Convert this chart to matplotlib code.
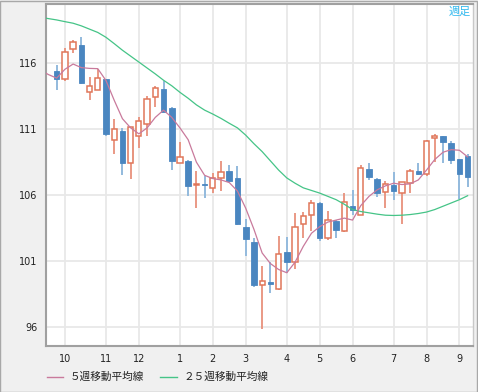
import numpy as np
import matplotlib
matplotlib.use("Agg")
import matplotlib.pyplot as plt
from matplotlib.lines import Line2D
from matplotlib.patches import Rectangle

# weekly candles (oldest first)
opens = [115.4, 114.8, 117.1, 117.4, 113.85, 114.0, 114.8, 110.2, 110.85, 108.4,
         110.5, 111.4, 113.45, 114.05, 112.6, 108.45, 108.6, 106.75, 106.8, 106.55,
         107.3, 107.85, 107.3, 103.6, 102.45, 99.15, 99.35, 98.9, 101.7, 100.95,
         103.8, 104.45, 105.4, 102.75, 104.0, 103.3, 105.2, 104.5, 108.0, 107.2,
         106.2, 106.8, 106.15, 106.9, 107.85, 107.6, 110.35, 110.5, 109.95, 108.75,
         108.95]
highs = [115.9, 117.2, 117.8, 118.0, 115.0, 115.6, 114.85, 111.75, 111.1, 111.2,
         111.9, 113.55, 114.25, 114.65, 112.7, 110.0, 108.65, 107.85, 107.45, 107.7,
         108.6, 108.3, 108.2, 104.2, 102.75, 100.6, 100.95, 102.9, 102.8, 104.65,
         104.75, 105.65, 105.5, 104.8, 104.1, 106.15, 106.4, 108.3, 108.45, 107.3,
         107.05, 107.75, 107.0, 107.95, 108.4, 110.2, 110.65, 110.5, 110.1, 108.75,
         109.1]
lows = [114.0, 114.7, 116.8, 114.4, 113.2, 114.0, 110.45, 109.1, 107.5, 107.2,
        109.55, 110.5, 112.7, 112.3, 107.9, 108.45, 105.9, 105.0, 105.8, 106.15,
        106.3, 107.1, 103.75, 101.4, 99.05, 95.8, 98.55, 98.8, 100.1, 100.35,
        102.75, 103.25, 102.5, 102.6, 102.75, 103.2, 104.5, 104.5, 107.15, 105.85,
        105.0, 105.65, 103.8, 106.15, 107.55, 107.45, 108.5, 108.4, 108.35, 105.7,
        106.6]
closes = [114.8, 116.9, 117.6, 114.5, 114.3, 114.9, 110.65, 111.0, 108.4, 111.15,
          111.6, 113.3, 114.1, 112.3, 108.55, 108.9, 106.7, 106.8, 106.75, 107.3,
          107.75, 107.1, 103.8, 102.7, 99.15, 99.5, 99.25, 101.5, 100.9, 103.6,
          104.4, 105.4, 102.75, 104.1, 103.35, 105.5, 104.9, 108.05, 107.35, 106.15,
          106.85, 106.3, 107.0, 107.85, 107.6, 110.1, 110.5, 110.0, 108.7, 107.6,
          107.35]

# moving averages, starting two weeks before the first visible candle
ma5 = [115.5, 115.15, 114.88, 115.55, 115.95, 115.68, 115.62, 115.6, 114.7, 113.2,
       111.8, 111.1, 110.65, 111.1, 111.9, 112.45, 111.9, 111.1, 110.2, 108.5,
       107.5, 107.25, 107.15, 106.95, 106.3, 105.0, 103.4, 101.6, 100.8, 100.35,
       100.1, 100.9, 102.1, 103.1, 103.6, 103.95, 104.1, 104.25, 104.1, 105.2,
       105.9, 106.4, 106.7, 106.9, 106.8, 106.85, 107.15, 107.9, 108.7, 109.25,
       109.45, 109.4, 108.9]
ma25 = [119.5, 119.4, 119.3, 119.17, 119.05, 118.85, 118.6, 118.35, 117.98, 117.5,
        117.0, 116.55, 116.1, 115.65, 115.2, 114.72, 114.3, 113.8, 113.35, 112.85,
        112.45, 112.15, 111.82, 111.45, 111.1, 110.55, 109.9, 109.3, 108.6, 107.9,
        107.3, 106.9, 106.55, 106.35, 106.15, 105.9, 105.65, 105.3, 104.9, 104.75,
        104.65, 104.55, 104.47, 104.45, 104.47, 104.52, 104.6, 104.71, 104.9, 105.15,
        105.4, 105.65, 105.95]

month_labels = ['10', '11', '12', '1', '2', '3', '4', '5', '6', '7', '8', '9']
month_start_week = [1, 6, 10, 15, 19, 23, 28, 32, 36, 41, 45, 49]
y_ticks = [96, 101, 106, 111, 116]

RED = '#e0765a'
RED_WICK = '#e8917c'
BLUE = '#4a86c0'
BLUE_WICK = '#93badd'
PINK = '#c97a9c'
GREEN = '#45c487'

fig = plt.figure(figsize=(4.78, 3.92), dpi=100, facecolor='#f0f0f0')
ax = fig.add_axes([0.0962, 0.1181, 0.8933, 0.8717])
ax.set_facecolor('white')

o = np.array(opens)
h = np.array(highs)
l = np.array(lows)
c = np.array(closes)
x = np.arange(len(c))
up = c >= o

# wicks
ax.vlines(x[up], l[up], h[up], color=RED_WICK, lw=1.3, zorder=2)
ax.vlines(x[~up], l[~up], h[~up], color=BLUE_WICK, lw=1.4, zorder=2)

# bodies
body = np.maximum(np.abs(c - o), 0.12)
bottom = np.minimum(o, c)
ax.bar(x[up], body[up], bottom=bottom[up], width=0.64, facecolor='white',
       edgecolor=RED, linewidth=1.1, zorder=3)
ax.bar(x[~up], body[~up], bottom=bottom[~up], width=0.68, facecolor=BLUE,
       edgecolor=BLUE, linewidth=0.6, zorder=3)

xm = np.arange(-2, len(c))
ax.plot(xm, ma25, color=GREEN, lw=0.9, zorder=4)
ax.plot(xm, ma5, color=PINK, lw=0.9, zorder=4)

ax.set_xlim(-1.3, 50.65)
ax.set_ylim(94.56, 120.51)
ax.set_xticks(month_start_week)
ax.set_xticklabels(month_labels)
ax.set_yticks(y_ticks)
ax.tick_params(length=0, labelsize=7, colors='#222222')
ax.tick_params(axis='y', pad=6)
ax.tick_params(axis='x', pad=6)
ax.grid(True, color='#e8e8e8', lw=1.3, zorder=0)
ax.set_axisbelow(True)
for side in ['left', 'bottom', 'top']:
    ax.spines[side].set_color('#a0a0a0')
    ax.spines[side].set_linewidth(1.5)
ax.spines['right'].set_color('#c8c8c8')
ax.spines['right'].set_linewidth(1.0)

ax.text(0.996, 0.992, '週足', transform=ax.transAxes, ha='right', va='top',
        fontsize=8, color='#2fb8ee', family=['Noto Sans CJK JP', 'DejaVu Sans'])

# legend drawn in figure coordinates
ly = 1 - 377 / 392
fig.add_artist(Line2D([47 / 478, 63 / 478], [ly, ly], color=PINK, lw=1.0))
fig.text(70 / 478, ly, '５週移動平均線', ha='left', va='center', fontsize=7.7,
         color='#222222', family=['Noto Sans CJK JP', 'DejaVu Sans'])
fig.add_artist(Line2D([160 / 478, 177 / 478], [ly, ly], color=GREEN, lw=1.0))
fig.text(183 / 478, ly, '２５週移動平均線', ha='left', va='center', fontsize=7.7,
         color='#222222', family=['Noto Sans CJK JP', 'DejaVu Sans'])

# outer frame
fig.add_artist(Rectangle((0.001, 0.001), 0.997, 0.997, transform=fig.transFigure,
                         fill=False, edgecolor='#a8a8a8', lw=1.0))

fig.savefig('out.png', dpi=100, facecolor=fig.get_facecolor())
